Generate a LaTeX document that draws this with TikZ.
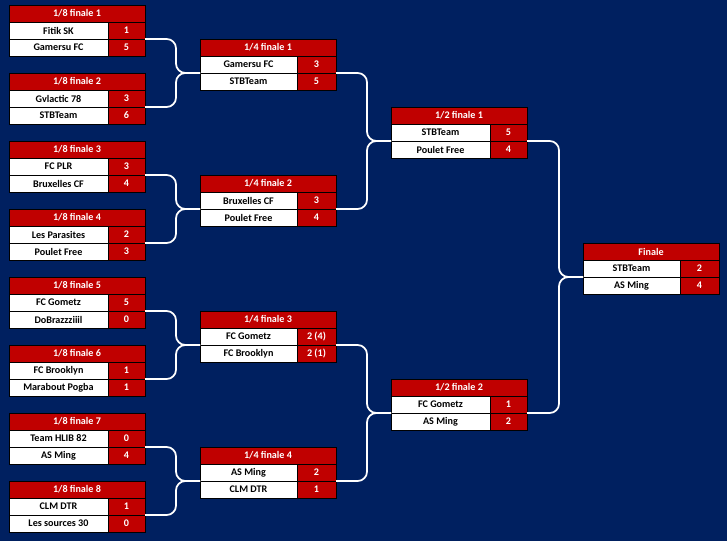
\documentclass[tikz,border=0pt]{standalone}
\usepackage{fontspec}
\setmainfont{Carlito}
\begin{document}
\begin{tikzpicture}[x=0.75pt,y=-0.75pt,
  cell/.style={draw=black,line width=0.4pt,inner sep=0pt,outer sep=0pt,minimum height=12.75pt,anchor=north west,font=\fontsize{7.6}{9}\selectfont\bfseries},
  titlecell/.style={cell,fill=red!75!black,text=white},
  namecell/.style={cell,fill=white,text=black},
  scorecell/.style={cell,fill=red!75!black,text=white},
  conn/.style={draw=white,line width=1.3pt,rounded corners=7pt}]
\definecolor{navy}{HTML}{002060}
\definecolor{xred}{HTML}{C00000}
\tikzset{titlecell/.append style={fill=xred},scorecell/.append style={fill=xred}}
\fill[navy] (0,0) rectangle (727,541);
\useasboundingbox (0,0) rectangle (727,541);
% #1 id, #2 x, #3 y, #4 title, #5 t1, #6 s1, #7 t2, #8 s2, #9 name width px
\newcommand\mymatch[9]{%
  \node[titlecell,minimum width=102pt] (#1t) at (#2,#3) {#4};
  \node[namecell,minimum width=#9*0.75pt] (#1a) at (#2,#3+17) {#5};
  \node[scorecell,minimum width=(136-#9)*0.75pt] (#1as) at (#2+#9,#3+17) {#6};
  \node[namecell,minimum width=#9*0.75pt] (#1b) at (#2,#3+34) {#7};
  \node[scorecell,minimum width=(136-#9)*0.75pt] (#1bs) at (#2+#9,#3+34) {#8};
}
\mymatch{ma}{9}{5}{1/8 finale 1}{Fitik SK}{1}{Gamersu FC}{5}{99}
\mymatch{mb}{9}{73}{1/8 finale 2}{Gvlactic 78}{3}{STBTeam}{6}{99}
\mymatch{mc}{9}{141}{1/8 finale 3}{FC PLR}{3}{Bruxelles CF}{4}{99}
\mymatch{md}{9}{209}{1/8 finale 4}{Les Parasites}{2}{Poulet Free}{3}{99}
\mymatch{me}{9}{277}{1/8 finale 5}{FC Gometz}{5}{DoBrazzziiil}{0}{99}
\mymatch{mf}{9}{345}{1/8 finale 6}{FC Brooklyn}{1}{Marabout Pogba}{1}{99}
\mymatch{mg}{9}{413}{1/8 finale 7}{Team HLIB 82}{0}{AS Ming}{4}{99}
\mymatch{mh}{9}{481}{1/8 finale 8}{CLM DTR}{1}{Les sources 30}{0}{99}
\mymatch{qa}{200}{39}{1/4 finale 1}{Gamersu FC}{3}{STBTeam}{5}{97}
\mymatch{qb}{200}{175}{1/4 finale 2}{Bruxelles CF}{3}{Poulet Free}{4}{97}
\mymatch{qc}{200}{311}{1/4 finale 3}{FC Gometz}{2 (4)}{FC Brooklyn}{2 (1)}{97}
\mymatch{qd}{200}{447}{1/4 finale 4}{AS Ming}{2}{CLM DTR}{1}{97}
\mymatch{sa}{391}{107}{1/2 finale 1}{STBTeam}{5}{Poulet Free}{4}{99}
\mymatch{sb}{391}{379}{1/2 finale 2}{FC Gometz}{1}{AS Ming}{2}{99}
\mymatch{fa}{583}{243}{Finale}{STBTeam}{2}{AS Ming}{4}{97}
\newcommand\myconn[2]{\draw[conn] (#1as.south east) -| ([xshift=-18pt]#2a.south west) -- (#2a.south west);}
\myconn{ma}{qa}\myconn{mb}{qa}\myconn{mc}{qb}\myconn{md}{qb}
\myconn{me}{qc}\myconn{mf}{qc}\myconn{mg}{qd}\myconn{mh}{qd}
\myconn{qa}{sa}\myconn{qb}{sa}\myconn{qc}{sb}\myconn{qd}{sb}
\myconn{sa}{fa}\myconn{sb}{fa}
\end{tikzpicture}
\end{document}
